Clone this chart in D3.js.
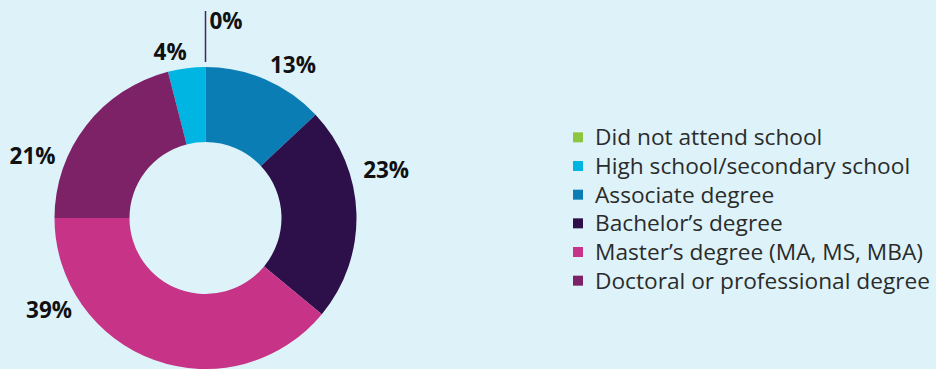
<!DOCTYPE html>
<meta charset="utf-8">
<style>
body{margin:0;background:#ddf3f9;}
svg{display:block;background:#ddf3f9;}
.pct{font:bold 22.5px "Open Sans",sans-serif;fill:#111;}
.legend text{font:22.7px "Open Sans",sans-serif;fill:#2b2b2b;}
</style>
<body>
<script src="https://cdn.jsdelivr.net/npm/d3@7"></script>
<script>
// data (legend order)
var categories = ["Did not attend school","High school/secondary school","Associate degree","Bachelor\u2019s degree","Master\u2019s degree (MA, MS, MBA)","Doctoral or professional degree"];
var values = [0, 4, 13, 23, 39, 21];
var colors = ["#8cc63f","#00b5e2","#0a7db5","#2d1049","#c63387","#7e2268"];
// order the slices are laid clockwise from 12 o'clock
var sliceOrder = [0, 2, 3, 4, 5, 1];

// layout
var W = 936, H = 369;
var cx = 205.5, cy = 218, rOuter = 151, rInner = 76;
// label placement around the ring (degrees clockwise from top, distance)
var labelAngle = [6, 348, 29.6, 75, 239.8, 290];
var labelDist  = [199, 170, 177, 187, 181, 184];

var svg = d3.select("body").append("svg")
  .attr("width", W).attr("height", H);

var rows = categories.map(function(c, i){ return {name:c, value:values[i], color:colors[i], i:i}; });

var pie = d3.pie()
  .value(function(d){ return d.value; })
  .sort(function(a, b){ return sliceOrder.indexOf(a.i) - sliceOrder.indexOf(b.i); });

var arc = d3.arc().innerRadius(rInner).outerRadius(rOuter);

var g = svg.append("g").attr("transform", "translate(" + cx + "," + cy + ")");

g.selectAll("path.slice")
  .data(pie(rows))
  .enter().append("path")
  .attr("class", "slice")
  .attr("d", arc)
  .attr("fill", function(d){ return d.data.color; });

// leader line for the zero slice
var arcs = pie(rows);
arcs.forEach(function(a){
  if (a.data.value === 0) {
    var t = a.startAngle;
    g.append("line")
      .attr("x1", Math.sin(t) * (rOuter + 5)).attr("y1", -Math.cos(t) * (rOuter + 5))
      .attr("x2", Math.sin(t) * (rOuter + 56)).attr("y2", -Math.cos(t) * (rOuter + 56))
      .attr("stroke", "#3d2a5c").attr("stroke-width", 1.5);
  }
});

g.selectAll("text.pct")
  .data(arcs)
  .enter().append("text")
  .attr("class", "pct")
  .attr("text-anchor", function(d){ return d.data.value === 0 ? "start" : "middle"; })
  .attr("dominant-baseline", "central")
  .attr("x", function(d){
    var a = labelAngle[d.data.i] * Math.PI / 180;
    return d.data.value === 0 ? 4 : Math.sin(a) * labelDist[d.data.i];
  })
  .attr("y", function(d){
    var a = labelAngle[d.data.i] * Math.PI / 180;
    return d.data.value === 0 ? -197.5 : -Math.cos(a) * labelDist[d.data.i];
  })
  .text(function(d){ return d.data.value + "%"; });

// legend
var ly = d3.scaleBand().domain(d3.range(categories.length)).range([123, 295]);
var legend = svg.append("g").attr("class", "legend");
var item = legend.selectAll("g").data(rows).enter().append("g")
  .attr("transform", function(d){ return "translate(573," + (ly(d.i) + ly.bandwidth() / 2) + ")"; });
item.append("rect")
  .attr("x", 0).attr("y", -5).attr("width", 10).attr("height", 10)
  .attr("fill", function(d){ return d.color; });
item.append("text")
  .attr("x", 22).attr("dy", "0.35em")
  .text(function(d){ return d.name; });
</script>
</body>
